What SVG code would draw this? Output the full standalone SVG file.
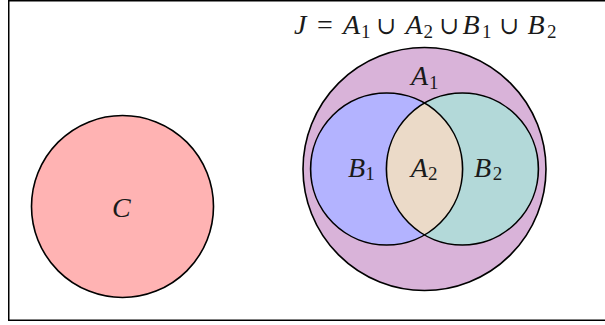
<svg xmlns="http://www.w3.org/2000/svg" width="605" height="325" viewBox="0 0 605 325">
<style>
.o{stroke:#000;stroke-width:1.6;}
.nf{fill:none;}
.m{font-family:"Liberation Serif","DejaVu Serif",serif;font-style:italic;font-size:28px;fill:#1a1a1a;}
.r{font-family:"Liberation Serif","DejaVu Serif",serif;font-style:normal;font-size:28px;fill:#1a1a1a;}
.u{font-family:"DejaVu Serif",serif;font-style:normal;font-size:24px;fill:#1a1a1a;}
.s{font-family:"Liberation Serif","DejaVu Serif",serif;font-style:normal;font-size:19px;fill:#1a1a1a;}
</style>
<rect width="605" height="325" fill="#fff"/>
<rect id="frame" x="8.75" y="0.75" width="600" height="319.5" fill="none" stroke="#000" stroke-width="1.5"/>
<g id="node-C">
<circle cx="122.5" cy="206.5" r="91" fill="#FFB3B3" class="o"/>
<text class="m" x="112" y="216.5">C</text>
</g>
<g id="node-A1">
<circle cx="424.5" cy="169" r="121.5" fill="#D9B3D9" class="o"/>
<text x="411" y="85"><tspan class="m">A</tspan><tspan class="s" x="429" dy="3.5">1</tspan></text>
</g>
<g id="node-B1">
<circle cx="386.6" cy="169" r="76" fill="#B3B3FF"/>
<text x="348" y="176.5"><tspan class="m">B</tspan><tspan class="s" x="365.2" dy="3.5">1</tspan></text>
</g>
<g id="node-B2">
<circle cx="462.4" cy="169" r="76" fill="#B3D9D9"/>
<text x="474" y="176.5"><tspan class="m">B</tspan><tspan class="s" x="492.7" dy="3.5">2</tspan></text>
</g>
<g id="node-A2">
<path d="M424.5,103.1 A76,76 0 0,0 424.5,234.9 A76,76 0 0,0 424.5,103.1 Z" fill="#EBDAC8"/>
<text x="410.7" y="176.5"><tspan class="m">A</tspan><tspan class="s" x="428" dy="3.5">2</tspan></text>
</g>
<g id="outlines">
<circle cx="386.6" cy="169" r="76" class="o nf"/>
<circle cx="462.4" cy="169" r="76" class="o nf"/>
</g>
<g id="title">
<text y="34"><tspan class="m" x="294">J</tspan><tspan class="r" x="317">=</tspan><tspan class="m" x="343">A</tspan><tspan class="s" x="361" dy="3.5">1</tspan><tspan class="u" x="376.5" dy="-3.5">∪</tspan><tspan class="m" x="405.5">A</tspan><tspan class="s" x="423.5" dy="3.5">2</tspan><tspan class="u" x="439.5" dy="-3.5">∪</tspan><tspan class="m" x="462.5">B</tspan><tspan class="s" x="482" dy="3.5">1</tspan><tspan class="u" x="499.5" dy="-3.5">∪</tspan><tspan class="m" x="527.5">B</tspan><tspan class="s" x="547" dy="3.5">2</tspan></text>
</g>
</svg>
